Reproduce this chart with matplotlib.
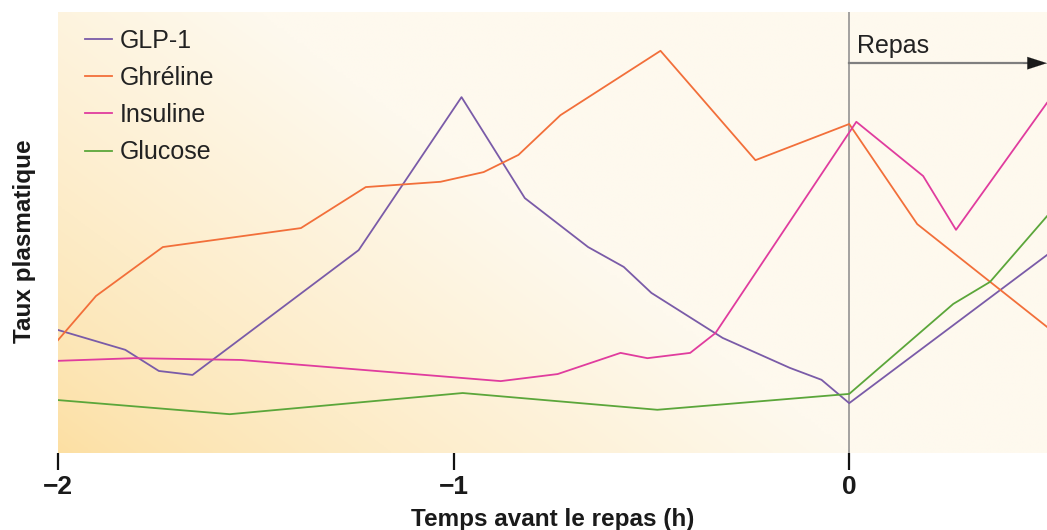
import numpy as np
import matplotlib
matplotlib.use('Agg')
import matplotlib.pyplot as plt
from matplotlib.colors import to_rgb

plt.rcParams['font.family'] = ['Liberation Sans', 'DejaVu Sans']

# temps (h) et taux plasmatique (unités arbitraires, 0-100)
glp1_x = [-2.0, -1.83, -1.745, -1.66, -1.24, -0.98, -0.82, -0.66, -0.57, -0.5, -0.32, -0.15, -0.07, 0.0, 0.5]
glp1_y = [27.9, 23.4, 18.6, 17.7, 46.0, 80.7, 57.8, 46.7, 42.2, 36.3, 26.1, 19.3, 16.6, 11.3, 44.9]

ghre_x = [-2.0, -1.904, -1.735, -1.386, -1.222, -1.033, -0.924, -0.836, -0.73, -0.477, -0.237, 0.0, 0.172, 0.5]
ghre_y = [25.6, 35.6, 46.7, 51.0, 60.3, 61.5, 63.7, 67.6, 76.6, 91.2, 66.4, 74.6, 51.9, 28.6]

insu_x = [-2.0, -1.808, -1.538, -0.881, -0.737, -0.578, -0.51, -0.402, -0.338, 0.018, 0.187, 0.27, 0.5]
insu_y = [20.9, 21.5, 21.1, 16.3, 17.9, 22.7, 21.5, 22.7, 27.2, 75.1, 62.8, 50.6, 79.4]

gluc_x = [-2.0, -1.566, -0.977, -0.485, 0.0, 0.263, 0.356, 0.5]
gluc_y = [12.0, 8.8, 13.6, 9.8, 13.4, 33.8, 38.8, 53.7]

series = [
    ('GLP-1', glp1_x, glp1_y, '#7a5ba8'),
    ('Ghréline', ghre_x, ghre_y, '#f26f3a'),
    ('Insuline', insu_x, insu_y, '#e03c9e'),
    ('Glucose', gluc_x, gluc_y, '#5ba63a'),
]

fig = plt.figure(figsize=(10.47, 5.30), dpi=100)
ax = fig.add_axes([58 / 1047, 77 / 530, 1 - 58 / 1047, 441 / 530])

# fond en dégradé (orange en bas à gauche -> crème en haut à droite)
nx, ny = 300, 150
u = np.linspace(0, 1, nx)[None, :]
v = np.linspace(0, 1, ny)[:, None]
t = np.clip(u * 1.25 + v * 0.75, 0, 1) ** 0.8
c0 = np.array(to_rgb('#fcdfa2'))
c1 = np.array(to_rgb('#fef9ee'))
img = c0 + (c1 - c0) * t[..., None]
ax.imshow(img, extent=[-2, 0.5, 0, 100], origin='lower', aspect='auto', zorder=0)

for name, xs, ys, col in series:
    ax.plot(xs, ys, color=col, lw=1.3, label=name, zorder=3)

ax.axvline(0, color='#8a8a8a', lw=1.1, zorder=2)

# flèche repas
ax.plot([0, 0.47], [88.4, 88.4], color='#7f7f7f', lw=1.6, zorder=2)
ax.annotate('', xy=(0.5, 88.4), xytext=(0.44, 88.4),
            arrowprops=dict(arrowstyle='-|>,head_length=1.4,head_width=0.45',
                            color='#1a1a1a', lw=0.1, shrinkA=0, shrinkB=0),
            annotation_clip=False, zorder=4)
ax.text(0.02, 92.3, 'Repas', fontsize=18, color='#222222', va='center', ha='left')

ax.set_xlim(-2, 0.5)
ax.set_ylim(0, 100)
for sp in ax.spines.values():
    sp.set_visible(False)
ax.set_yticks([])
ax.set_xticks([-2, -1, 0])
ax.set_xticklabels(['\u22122', '\u22121', '0'], fontsize=19, fontweight='bold', color='#1a1a1a')
ax.tick_params(axis='x', direction='out', length=12, width=1.6, color='#111111', pad=4)

ax.set_xlabel('Temps avant le repas (h)', fontsize=17.5, fontweight='bold', color='#1a1a1a', labelpad=6)
ax.set_ylabel('Taux plasmatique', fontsize=17.5, fontweight='bold', color='#1a1a1a')
ax.yaxis.set_label_coords(-0.022, 0.48)

leg = ax.legend(loc='upper left', frameon=False, fontsize=18, handlelength=1.1,
                handletextpad=0.3, labelspacing=0.53, borderaxespad=0.0,
                bbox_to_anchor=(0.017, 0.985))
for txt in leg.get_texts():
    txt.set_color('#222222')

fig.savefig('out.png', dpi=100)
